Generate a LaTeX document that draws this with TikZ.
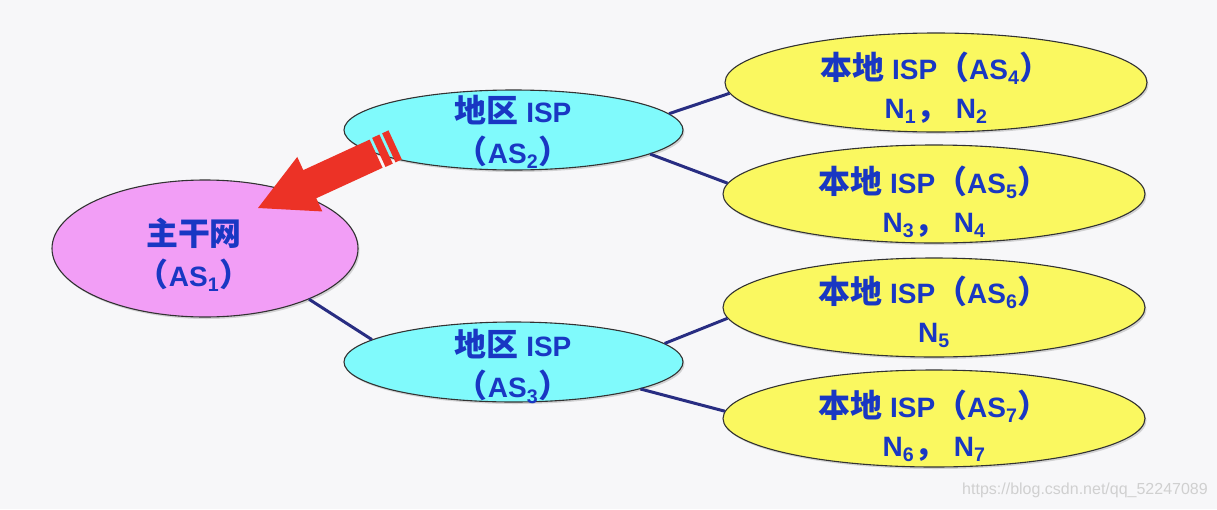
\documentclass[tikz,border=0pt]{standalone}
\usepackage{fontspec}
\setmainfont{Liberation Sans}
\newfontfamily\cjk{Noto Sans CJK SC}[Scale=1.14]
\newfontfamily\wmfont{Liberation Sans}
\usetikzlibrary{shapes.geometric,shadows}
\definecolor{bgcol}{RGB}{247,247,249}
\definecolor{pinkfill}{RGB}{242,158,246}
\definecolor{cyanfill}{RGB}{128,250,252}
\definecolor{yellowfill}{RGB}{250,248,96}
\definecolor{ellborder}{RGB}{50,50,50}
\definecolor{txtblue}{RGB}{25,55,195}
\definecolor{linkblue}{RGB}{40,45,130}
\definecolor{arrowred}{RGB}{236,50,38}
\definecolor{wmgray}{RGB}{208,208,208}
\newcommand\zh[1]{{\cjk\bfseries #1}}
\begin{document}
\begin{tikzpicture}[x=1pt,y=-1pt,
  ell/.style={ellipse, draw=ellborder, line width=1.1pt, inner sep=0pt,
    drop shadow={shadow xshift=1.5pt, shadow yshift=-2pt, opacity=0.15, fill=black}},
  lbl/.style={font=\fontsize{28}{41}\selectfont\bfseries, text=txtblue, align=center, inner sep=0pt},
  lbly/.style={font=\fontsize{28}{39}\selectfont\bfseries, text=txtblue, align=center, inner sep=0pt},
  link/.style={draw=linkblue, line width=3pt},
  wm/.style={font=\wmfont\fontsize{16}{16}\selectfont, text=wmgray, inner sep=0pt}]
\fill[bgcol] (0,0) rectangle (1217,509);
\useasboundingbox (0,0) rectangle (1217,509);

% ellipses
\node[ell, fill=pinkfill, minimum width=306pt, minimum height=137pt] (as1) at (205,248.5) {};
\node[ell, fill=cyanfill, minimum width=339pt, minimum height=80pt] (as2) at (513.5,130) {};
\node[ell, fill=cyanfill, minimum width=339pt, minimum height=80pt] (as3) at (513.5,362) {};
\node[ell, fill=yellowfill, minimum width=422pt, minimum height=99pt] (as4) at (936,82.5) {};
\node[ell, fill=yellowfill, minimum width=422pt, minimum height=98pt] (as5) at (934,194) {};
\node[ell, fill=yellowfill, minimum width=422pt, minimum height=99pt] (as6) at (934,307.5) {};
\node[ell, fill=yellowfill, minimum width=422pt, minimum height=97pt] (as7) at (934,418.5) {};

% labels
\node[lbl] (t1) at (194,255) {\zh{主干网}\\\zh{（}AS\textsubscript{1}\zh{）}};
\node[lbl] (t2) at (513,132) {\zh{地区} ISP\\\zh{（}AS\textsubscript{2}\zh{）}};
\node[lbl] (t3) at (513,366.5) {\zh{地区} ISP\\\zh{（}AS\textsubscript{3}\zh{）}};
\node[lbly] (t4) at (936,88) {\zh{本地} ISP\zh{（}AS\textsubscript{4}\zh{）}\\N\textsubscript{1}\zh{，} N\textsubscript{2}};
\node[lbly] (t5) at (934,201.5) {\zh{本地} ISP\zh{（}AS\textsubscript{5}\zh{）}\\N\textsubscript{3}\zh{，} N\textsubscript{4}};
\node[lbly] (t6) at (934,312) {\zh{本地} ISP\zh{（}AS\textsubscript{6}\zh{）}\\N\textsubscript{5}};
\node[lbly] (t7) at (934,426) {\zh{本地} ISP\zh{（}AS\textsubscript{7}\zh{）}\\N\textsubscript{6}\zh{，} N\textsubscript{7}};

% connectors
\draw[link] (as1.-26) -- (as3.171);
\draw[link] (as2.6) -- (as4.183);
\draw[link] (as2.-10) -- (as5.177);
\draw[link] (as3.7) -- (as6.183);
\draw[link] (as3.-12) -- (as7.178);

% striped red arrow
\begin{scope}[shift={(258,208)}, rotate=24.7]
  \fill[arrowred] (0,0) -- (57,-30) -- (57,-15.5) -- (130,-15.5) -- (130,15.5) -- (57,15.5) -- (57,30) -- cycle;
  \fill[arrowred] (133,-16) rectangle (141,16);
  \fill[arrowred] (144,-16) rectangle (151,16);
\end{scope}

% watermark
\node[wm] (wmark) at (1085,490) {https://blog.csdn.net/qq\_52247089};
\end{tikzpicture}
\end{document}
